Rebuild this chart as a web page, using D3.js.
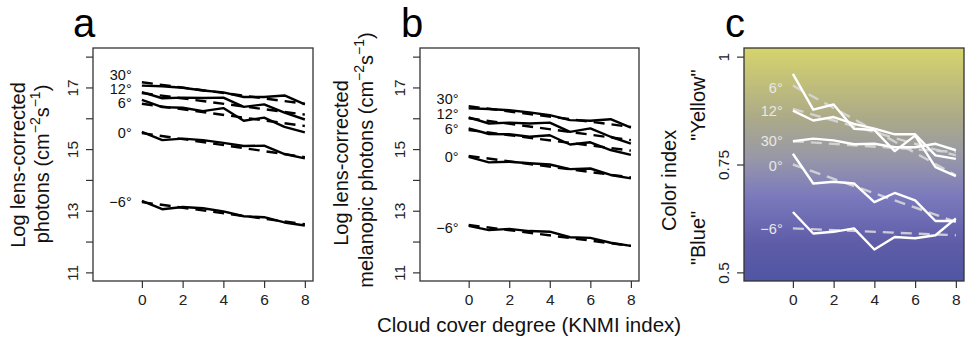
<!DOCTYPE html>
<html>
<head>
<meta charset="utf-8">
<script src="https://cdn.jsdelivr.net/npm/d3@7"></script>
<style>
	body { margin: 0; background: #fff; }
	svg { display: block; font-family: "Liberation Sans", Arial, sans-serif; }
</style>
</head>
<body>
<div id="chart"></div>
<script>
// cloud cover (KNMI index) on the x axis
let cloudCover = [0, 1, 2, 3, 4, 5, 6, 7, 8];
let fitX = [0, 8];
let elevationLabels = ["30°", "12°", "6°", "0°", "\u22126°"];

// panel a: log lens-corrected photons, one row per sun elevation
let photonsSolid = [
	[17.06, 17.04, 16.99, 16.90, 16.84, 16.69, 16.69, 16.74, 16.45],
	[16.85, 16.65, 16.67, 16.66, 16.67, 16.37, 16.45, 16.18, 15.96],
	[16.60, 16.36, 16.34, 16.23, 16.33, 15.92, 16.02, 15.72, 15.54],
	[15.56, 15.29, 15.34, 15.29, 15.20, 15.10, 15.11, 14.84, 14.70],
	[13.32, 13.05, 13.12, 13.08, 12.98, 12.82, 12.79, 12.62, 12.52]
];
let photonsFit = [[17.17, 16.47], [16.82, 16.12], [16.47, 15.75], [15.52, 14.74], [13.28, 12.56]];

// panel b: log lens-corrected melanopic photons
let melanopicSolid = [
	[16.32, 16.30, 16.26, 16.19, 16.10, 15.94, 15.92, 15.97, 15.70],
	[16.03, 15.83, 15.86, 15.83, 15.86, 15.56, 15.67, 15.40, 15.18],
	[15.67, 15.49, 15.48, 15.40, 15.45, 15.15, 15.22, 14.97, 14.81],
	[14.75, 14.57, 14.59, 14.54, 14.50, 14.35, 14.37, 14.16, 14.05],
	[12.51, 12.37, 12.41, 12.34, 12.32, 12.14, 12.12, 11.96, 11.86]
];
let melanopicFit = [[16.39, 15.72], [16.00, 15.29], [15.62, 14.95], [14.78, 14.08], [12.54, 11.86]];

// panel c: color index
let colorSolid = [
	[0.804, 0.810, 0.806, 0.797, 0.798, 0.790, 0.790, 0.798, 0.783],
	[0.875, 0.852, 0.860, 0.844, 0.833, 0.820, 0.820, 0.771, 0.763],
	[0.960, 0.877, 0.889, 0.833, 0.830, 0.781, 0.817, 0.744, 0.723],
	[0.775, 0.706, 0.710, 0.706, 0.663, 0.684, 0.667, 0.619, 0.619],
	[0.640, 0.590, 0.594, 0.602, 0.553, 0.582, 0.579, 0.586, 0.625]
];
let colorFit = [[0.804, 0.779], [0.879, 0.771], [0.933, 0.725], [0.750, 0.617], [0.602, 0.586]];

let xTicks = [0, 2, 4, 6, 8];
let photonTicks = [11, 12, 13, 14, 15, 16, 17, 18];
let photonTickLabels = ["11", "", "13", "", "15", "", "17", ""];
let colorTicks = [0.5, 0.75, 1];
let colorTickLabels = ["0.5", "0.75", "1"];

let W = 966, H = 340;
let boxTop = 48, boxBottom = 281;

let svg = d3.select("#chart").append("svg")
	.attr("width", W)
	.attr("height", H);

let grad = svg.append("defs").append("linearGradient")
	.attr("id", "bg")
	.attr("x1", 0).attr("y1", 0).attr("x2", 0).attr("y2", 1);
[["0", "#d6d46b"], ["0.3", "#acaa88"], ["0.47", "#9898a8"], ["0.64", "#7b79bd"], ["0.84", "#5e5ca7"], ["1", "#4f56a3"]]
	.forEach(function (s) {
		grad.append("stop").attr("offset", s[0]).attr("stop-color", s[1]);
	});

let panel = function(opt) {
	let x = d3.scaleLinear().domain([-2.4, 8.4]).range([opt.left, opt.right]);
	let y = d3.scaleLinear().domain(opt.yDom).range([boxBottom, boxTop]);
	let g = svg.append("g");

	if (opt.fill) {
		g.append("rect")
			.attr("x", opt.left).attr("y", boxTop)
			.attr("width", opt.right - opt.left).attr("height", boxBottom - boxTop)
			.attr("fill", opt.fill);
	}

	let line = d3.line()
		.x(function (d) { return x(d[0]); })
		.y(function (d) { return y(d[1]); });

	g.selectAll(".fit")
		.data(opt.fit)
		.enter().append("path")
		.attr("d", function (d) { return line(d3.zip(fitX, d)); })
		.attr("fill", "none")
		.attr("stroke", opt.fitColor)
		.attr("stroke-width", 2.4)
		.attr("stroke-dasharray", "11,7");

	g.selectAll(".obs")
		.data(opt.solid)
		.enter().append("path")
		.attr("d", function (d) { return line(d3.zip(cloudCover, d)); })
		.attr("fill", "none")
		.attr("stroke", opt.lineColor)
		.attr("stroke-width", 2.4)
		.attr("stroke-linejoin", "round");

	g.selectAll(".lab")
		.data(elevationLabels)
		.enter().append("text")
		.attr("x", x(-0.5))
		.attr("y", function (d, i) { return y(opt.fit[i][0]) + opt.nudge[i]; })
		.attr("dy", "0.35em")
		.attr("text-anchor", "end")
		.attr("font-size", 14.5)
		.attr("fill", opt.labelColor)
		.text(function (d) { return d; });

	g.append("rect")
		.attr("x", opt.left).attr("y", boxTop)
		.attr("width", opt.right - opt.left).attr("height", boxBottom - boxTop)
		.attr("fill", "none")
		.attr("stroke", "#333")
		.attr("stroke-width", 1.3);

	// x axis
	let xa = g.append("g").attr("transform", "translate(0," + boxBottom + ")")
		.call(d3.axisBottom(x).tickValues(xTicks).tickSize(7).tickPadding(6).tickSizeOuter(0));
	xa.select(".domain").remove();
	xa.selectAll("line").attr("stroke", "#333").attr("stroke-width", 1.2);
	xa.selectAll("text").attr("font-size", 15.5).attr("fill", "#222")
		.attr("font-family", "Liberation Sans, Arial, sans-serif");

	// y axis, labels turned like R does
	let ya = g.append("g").attr("transform", "translate(" + opt.left + ",0)")
		.call(d3.axisLeft(y).tickValues(opt.ticks).tickSize(7).tickSizeOuter(0)
			.tickFormat(function (d, i) { return opt.tickLabels[i]; }));
	ya.select(".domain").remove();
	ya.selectAll("line").attr("stroke", "#333").attr("stroke-width", 1.2);
	ya.selectAll("text")
		.attr("x", null).attr("dy", null)
		.attr("transform", "translate(-15,0) rotate(-90)")
		.attr("text-anchor", "middle")
		.attr("font-size", 15.5).attr("fill", "#222")
		.attr("font-family", "Liberation Sans, Arial, sans-serif");

	svg.append("text")
		.attr("x", opt.letterX).attr("y", 37)
		.attr("font-size", 40)
		.text(opt.letter);
	return g;
}

function rotText(x, y, anchor) {
	return svg.append("text")
		.attr("transform", "translate(" + x + "," + y + ") rotate(-90)")
		.attr("text-anchor", anchor)
		.attr("font-size", 20)
		.attr("fill", "#111");
}

function unitsText(t, before) {
	t.append("tspan").text(before + "(cm");
	t.append("tspan").attr("font-size", 14).attr("dy", -9).text("\u22122");
	t.append("tspan").attr("dy", 9).text("s");
	t.append("tspan").attr("font-size", 14).attr("dy", -9).text("\u22121");
	t.append("tspan").attr("dy", 9).text(")");
}

panel({
	left: 93, right: 313, yDom: [10.72, 18.28],
	solid: photonsSolid, fit: photonsFit,
	ticks: photonTicks, tickLabels: photonTickLabels,
	lineColor: "#000", fitColor: "#000", labelColor: "#111",
	nudge: [-7, -4, -1, 0, 0], letter: "a", letterX: 73
});
panel({
	left: 420, right: 639, yDom: [10.72, 18.28],
	solid: melanopicSolid, fit: melanopicFit,
	ticks: photonTicks, tickLabels: photonTickLabels,
	lineColor: "#000", fitColor: "#000", labelColor: "#111",
	nudge: [-7, -4, -1, 1, 3], letter: "b", letterX: 401
});
panel({
	left: 744, right: 964, yDom: [0.48, 1.02],
	solid: colorSolid, fit: colorFit,
	ticks: colorTicks, tickLabels: colorTickLabels,
	lineColor: "#fff", fitColor: "rgba(215,215,215,0.9)", labelColor: "#e8e8e8",
	nudge: [0, 2, 2, 1, 1], letter: "c", letterX: 725, fill: "url(#bg)"
});

// axis titles
rotText(25, 165, "middle").text("Log lens-corrected");
unitsText(rotText(49, 164, "middle"), "photons ");
rotText(348, 163, "middle").text("Log lens-corrected");
unitsText(rotText(373, 160, "middle"), "melanopic photons ");
rotText(676, 231, "start").text("Color index");
rotText(705, 238, "middle").text("\"Blue\"");
rotText(705, 105, "middle").text("\"Yellow\"");

svg.append("text")
	.attr("x", 529).attr("y", 332)
	.attr("text-anchor", "middle")
	.attr("font-size", 20.5)
	.attr("fill", "#111")
	.text("Cloud cover degree (KNMI index)");
</script>
</body>
</html>
